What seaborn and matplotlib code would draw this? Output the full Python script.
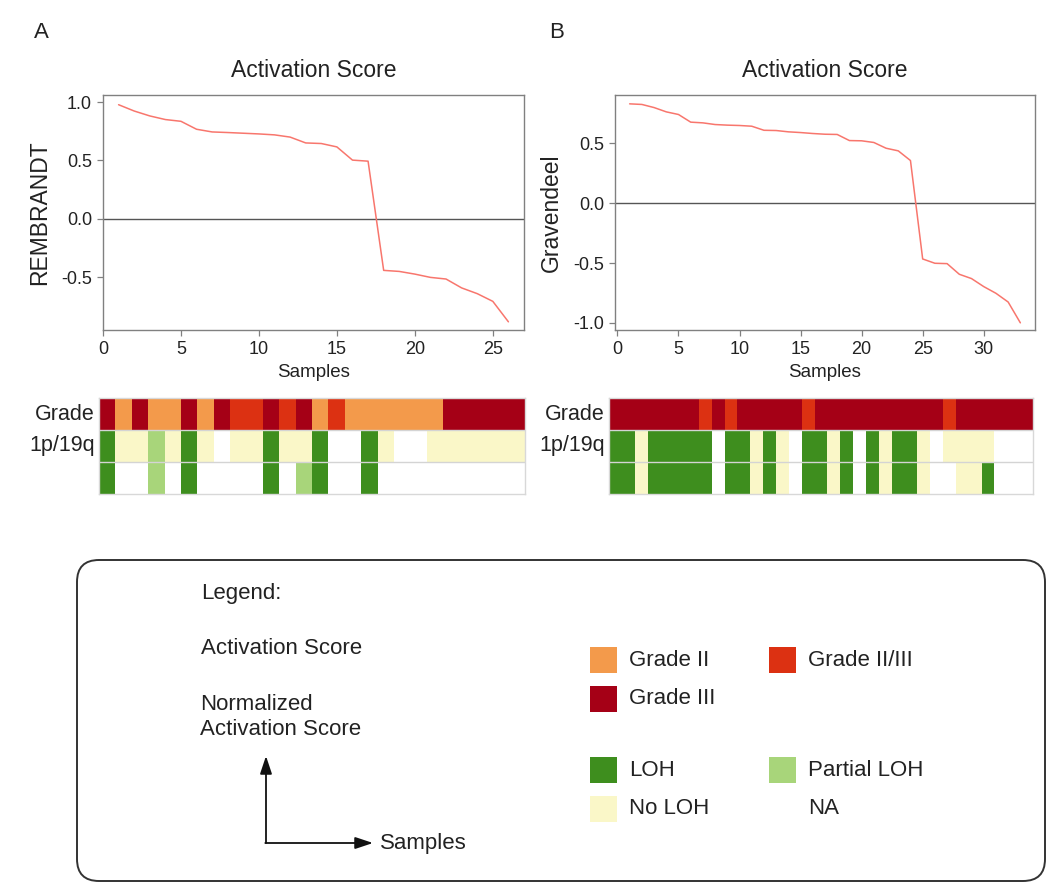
import numpy as np
import pandas as pd
import matplotlib
matplotlib.use("Agg")
import matplotlib.pyplot as plt
import seaborn as sns
from matplotlib.colors import ListedColormap
from matplotlib.patches import FancyBboxPatch, Rectangle

sns.set_theme(style="white")
plt.rcParams['font.family'] = ['Liberation Sans', 'DejaVu Sans']
plt.rcParams['axes.unicode_minus'] = False

# ---------------- data ----------------
score_rembrandt = [0.977, 0.923, 0.881, 0.850, 0.835, 0.767, 0.744, 0.739, 0.733,
                   0.727, 0.719, 0.700, 0.650, 0.645, 0.616, 0.503, 0.494, -0.440,
                   -0.449, -0.472, -0.500, -0.514, -0.590, -0.639, -0.705, -0.880]
score_gravendeel = [0.831, 0.826, 0.800, 0.764, 0.742, 0.678, 0.672, 0.658, 0.653,
                    0.650, 0.644, 0.610, 0.608, 0.597, 0.591, 0.583, 0.577, 0.575,
                    0.524, 0.522, 0.508, 0.460, 0.438, 0.357, -0.466, -0.502, -0.505,
                    -0.594, -0.630, -0.697, -0.753, -0.826, -1.000]

grade_a = ["III", "II", "III", "II", "II", "III", "II", "III", "II/III", "II/III",
           "III", "II/III", "III", "II", "II/III", "II", "II", "II", "II", "II",
           "II", "III", "III", "III", "III", "III"]
p1_a = ["LOH", "No LOH", "No LOH", "Partial LOH", "No LOH", "LOH", "No LOH", "NA",
        "No LOH", "No LOH", "LOH", "No LOH", "No LOH", "LOH", "NA", "NA", "LOH",
        "No LOH", "NA", "NA", "No LOH", "No LOH", "No LOH", "No LOH", "No LOH", "No LOH"]
q19_a = ["LOH", "NA", "NA", "Partial LOH", "NA", "LOH", "NA", "NA", "NA", "NA",
         "LOH", "NA", "Partial LOH", "LOH", "NA", "NA", "LOH", "NA", "NA", "NA",
         "NA", "NA", "NA", "NA", "NA", "NA"]

grade_b = ["III", "III", "III", "III", "III", "III", "III", "II/III", "III", "II/III",
           "III", "III", "III", "III", "III", "II/III", "III", "III", "III", "III",
           "III", "III", "III", "III", "III", "III", "II/III", "III", "III", "III",
           "III", "III", "III"]
p1_b = ["LOH", "LOH", "No LOH", "LOH", "LOH", "LOH", "LOH", "LOH", "NA", "LOH",
        "LOH", "No LOH", "LOH", "No LOH", "NA", "LOH", "LOH", "No LOH", "LOH", "NA",
        "LOH", "No LOH", "LOH", "LOH", "No LOH", "NA", "No LOH", "No LOH", "No LOH",
        "No LOH", "NA", "NA", "NA"]
q19_b = ["LOH", "LOH", "No LOH", "LOH", "LOH", "LOH", "LOH", "LOH", "NA", "LOH",
         "LOH", "No LOH", "LOH", "No LOH", "NA", "LOH", "LOH", "No LOH", "LOH", "NA",
         "LOH", "No LOH", "LOH", "LOH", "No LOH", "NA", "NA", "No LOH", "No LOH",
         "LOH", "NA", "NA", "NA"]

categories = ["Grade II", "Grade II/III", "Grade III", "LOH", "Partial LOH", "No LOH", "NA"]
cat_colors = ["#F39A4B", "#DC3112", "#A50016", "#3E8E1E", "#A8D57A", "#FAF7C8", "#FFFFFF"]
grade_key = {"II": 0, "II/III": 1, "III": 2}
loh_key = {"LOH": 3, "Partial LOH": 4, "No LOH": 5, "NA": 6}

row_labels = ["Grade", "1p/19q", ""]

# ---------------- figure ----------------
W, H = 1052, 883
fig = plt.figure(figsize=(W / 100, H / 100), dpi=100)
fig.patch.set_facecolor("white")


def fx(x0, x1, y0, y1):
    return [x0 / W, 1 - y1 / H, (x1 - x0) / W, (y1 - y0) / H]


line_color = "#F8766D"
spine_col = "#808080"
text_col = "#222222"
cmap = ListedColormap(cat_colors)


def line_panel(rect, scores, ylabel, xlim, ylim, yticks, xticks):
    ax = fig.add_axes(rect)
    df = pd.DataFrame({"Samples": np.arange(1, len(scores) + 1), "score": scores})
    sns.lineplot(data=df, x="Samples", y="score", ax=ax, color=line_color, lw=1.1)
    ax.axhline(0, color="#555555", lw=1.0, zorder=1)
    ax.set_xlim(*xlim)
    ax.set_ylim(*ylim)
    ax.set_yticks(yticks)
    ax.set_xticks(xticks)
    ax.set_yticklabels([f"{v:.1f}" for v in yticks])
    for s in ax.spines.values():
        s.set_visible(True)
        s.set_color(spine_col)
        s.set_linewidth(1.0)
    ax.tick_params(axis="both", direction="out", length=4, width=0.9, color=spine_col,
                   labelsize=13, labelcolor=text_col, pad=4, bottom=True, left=True)
    ax.set_title("Activation Score", fontsize=16.5, color=text_col, pad=13)
    ax.set_xlabel("Samples", fontsize=13.5, color=text_col, labelpad=4)
    ax.set_ylabel(ylabel, fontsize=16.5, color=text_col, labelpad=7)
    ax.grid(False)
    return ax


def heat_panel(rect, grade, p1, q19):
    ax = fig.add_axes(rect)
    codes = pd.DataFrame([[grade_key[g] for g in grade],
                          [loh_key[v] for v in p1],
                          [loh_key[v] for v in q19]],
                         index=["Grade", "1p", "19q"])
    sns.heatmap(codes, ax=ax, cmap=cmap, vmin=-0.5, vmax=6.5, cbar=False,
                xticklabels=False, yticklabels=row_labels, linewidths=0)
    for yb in [1, 2]:
        ax.axhline(yb, color="#d4d4d4", lw=1.0)
    for s in ax.spines.values():
        s.set_visible(True)
        s.set_color("#d8d8d8")
        s.set_linewidth(1.0)
    ax.tick_params(axis="y", length=0, labelsize=15.5, labelcolor=text_col, pad=3,
                   labelrotation=0)
    ax.set_xlabel("")
    ax.set_ylabel("")
    return ax


line_panel(fx(103, 524, 95, 330), score_rembrandt, "REMBRANDT", (0, 27), (-0.95, 1.06),
           [-0.5, 0.0, 0.5, 1.0], [0, 5, 10, 15, 20, 25])
line_panel(fx(615, 1035, 95, 330), score_gravendeel, "Gravendeel", (-0.2, 34.2), (-1.06, 0.905),
           [-1.0, -0.5, 0.0, 0.5], [0, 5, 10, 15, 20, 25, 30])

heat_panel(fx(99, 525, 398, 494), grade_a, p1_a, q19_a)
heat_panel(fx(609, 1033, 398, 494), grade_b, p1_b, q19_b)

fig.text(41 / W, 1 - 32 / H, "A", fontsize=16, ha="center", va="center", color=text_col)
fig.text(557 / W, 1 - 32 / H, "B", fontsize=16, ha="center", va="center", color=text_col)

# ---------------- legend box ----------------
lg = fig.add_axes([0, 0, 1, 1])
lg.set_xlim(0, W)
lg.set_ylim(H, 0)
lg.axis("off")
lg.patch.set_visible(False)

box = FancyBboxPatch((77, 560), 968, 321, boxstyle="round,pad=0,rounding_size=22",
                     fc="none", ec="#333333", lw=1.4)
lg.add_patch(box)

fs_leg = 16
lg.text(201, 593, "Legend:", fontsize=fs_leg, va="center", ha="left", color=text_col)
lg.text(201, 648, "Activation Score", fontsize=fs_leg, va="center", ha="left", color=text_col)
lg.text(200, 717, "Normalized\nActivation Score", fontsize=fs_leg, va="center", ha="left",
        color=text_col, linespacing=1.25)

arrow_kw = dict(arrowstyle="-|>,head_length=0.9,head_width=0.3", color="#111111", lw=1.3,
                shrinkA=0, shrinkB=0)
lg.annotate("", xy=(266, 756), xytext=(266, 843), arrowprops=arrow_kw)
lg.annotate("", xy=(373, 843), xytext=(265.3, 843), arrowprops=arrow_kw)
lg.text(380, 843, "Samples", fontsize=fs_leg, va="center", ha="left", color=text_col)

legend_items = [
    ("Grade II", 590, 660), ("Grade II/III", 769, 660), ("Grade III", 590, 699),
    ("LOH", 590, 770), ("Partial LOH", 769, 770), ("No LOH", 590, 809), ("NA", 769, 809),
]
for name, x0, yc in legend_items:
    col = cat_colors[categories.index(name)]
    lg.add_patch(Rectangle((x0, yc - 13), 27, 26, fc=col, ec="none"))
    lg.text(x0 + 39, yc, name, fontsize=fs_leg, va="center", ha="left", color=text_col)

fig.savefig("out.png", dpi=100, facecolor="white")
